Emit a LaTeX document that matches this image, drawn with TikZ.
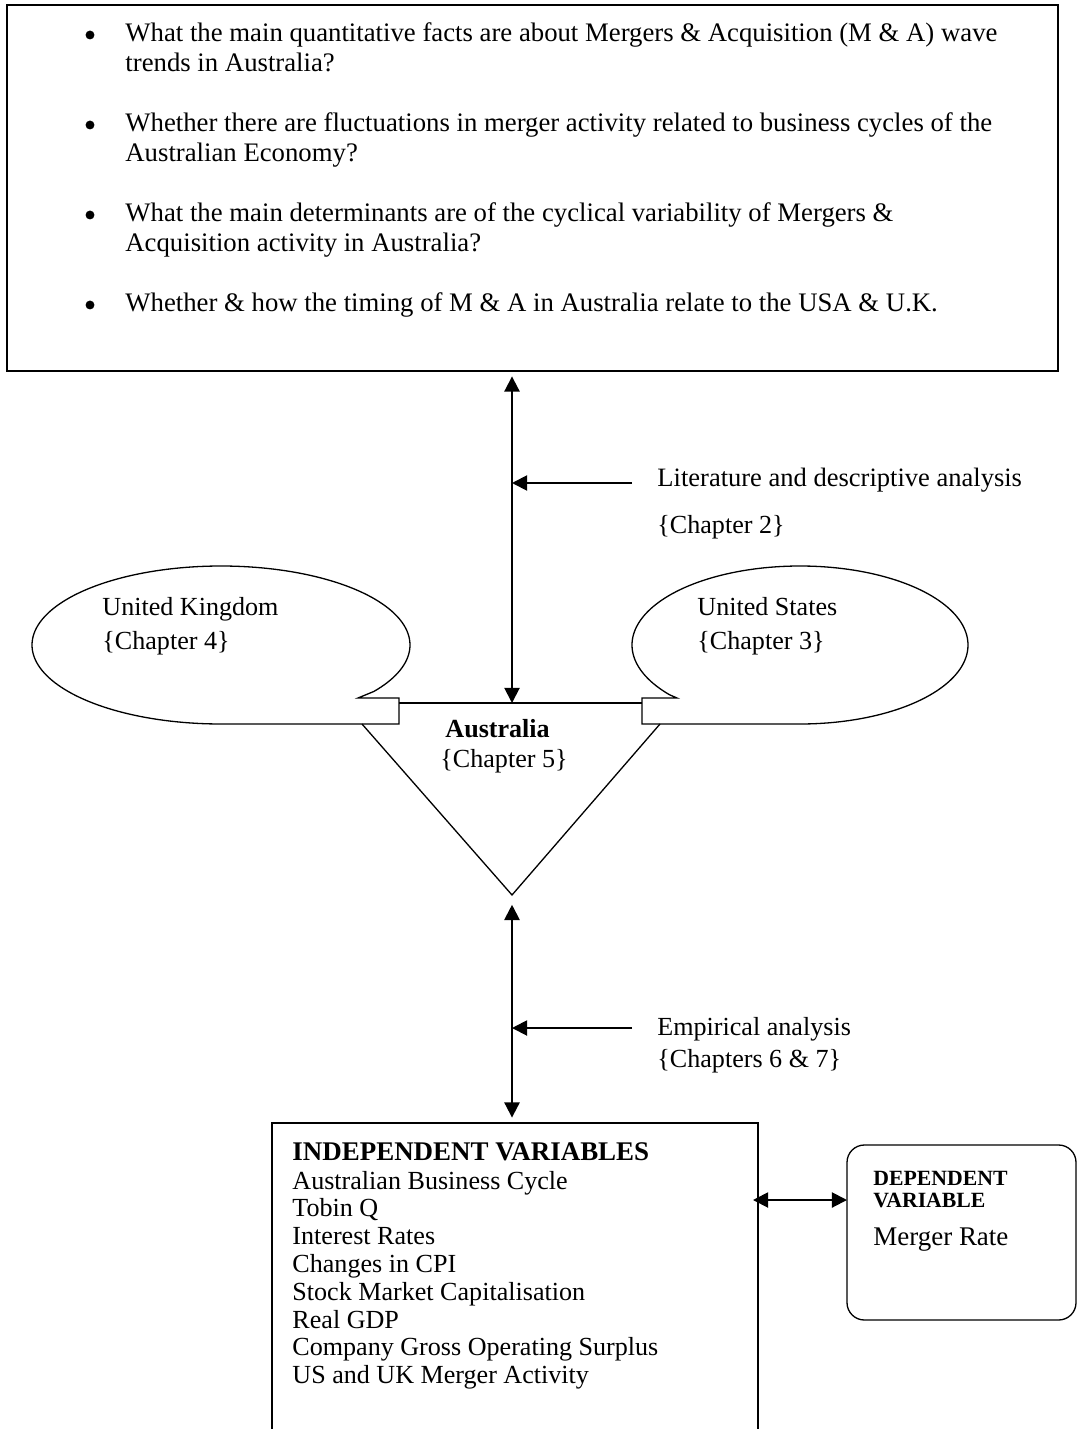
\documentclass[tikz,border=0pt]{standalone}
\usepackage{fontspec}
\setmainfont{Liberation Serif}
\usetikzlibrary{arrows.meta}
\begin{document}
\begin{tikzpicture}[x=0.46pt,y=-0.46pt,
  txt/.style={anchor=base west,inner sep=0pt,font=\fontsize{12}{14}\selectfont},
  toptxt/.style={anchor=base west,inner sep=0pt,font=\fontsize{12.3}{14}\selectfont},
  bul/.style={circle,fill=black,inner sep=0pt,minimum size=4.1pt},
  frame/.style={line width=0.9pt},
  outline/.style={line width=0.6pt},
  conn/.style={line width=0.9pt,-{Triangle[length=7pt,width=7pt]}},
  dconn/.style={line width=0.9pt,{Triangle[length=7pt,width=7pt]}-{Triangle[length=7pt,width=7pt]}}]
\useasboundingbox (0,0) rectangle (1079,1429);

% top box
\draw[frame] (7,5) rectangle (1058,371);
\node[bul] (b1) at (90,35) {};
\node[toptxt] (q1a) at (125,42) {What the main quantitative facts are about Mergers \& Acquisition (M \& A) wave};
\node[toptxt] (q1b) at (125,72) {trends in Australia?};
\node[bul] (b2) at (90,125) {};
\node[toptxt] (q2a) at (125,132) {Whether there are fluctuations in merger activity related to business cycles of the};
\node[toptxt] (q2b) at (125,162) {Australian Economy?};
\node[bul] (b3) at (90,215) {};
\node[toptxt] (q3a) at (125,222) {What the main determinants are of the cyclical variability of Mergers \&};
\node[toptxt] (q3b) at (125,252) {Acquisition activity in Australia?};
\node[bul] (b4) at (90,305) {};
\node[toptxt] (q4a) at (125,312) {Whether \& how the timing of M \& A in Australia relate to the USA \& U.K.};

% left callout ellipse (United Kingdom)
\draw[outline] plot[domain=90:396,samples=160] ({221+189*cos(\x)},{645+79*sin(\x)})
  -- (358,698) -- (399,698) -- (399,724) -- cycle;
% right callout ellipse (United States)
\draw[outline] plot[domain=90:-219,samples=160] ({800+168*cos(\x)},{645+79*sin(\x)})
  -- (677,698) -- (642,698) -- (642,724) -- cycle;
\node[txt] (uk1) at (102,615) {United Kingdom};
\node[txt] (uk2) at (102,649) {\{Chapter 4\}};
\node[txt] (us1) at (697,615) {United States};
\node[txt] (us2) at (697,649) {\{Chapter 3\}};

% triangle (Australia)
\draw[outline] (399,703) -- (642,703);
\draw[outline] (362,724) -- (512,895) -- (660,724);
\node[txt,font=\fontsize{12}{14}\selectfont\bfseries] (au1) at (445,737) {Australia};
\node[txt] (au2) at (440,767) {\{Chapter 5\}};

% coordinates for connectors
\coordinate (topbot) at (512,371);
\coordinate (austop) at (512,703);
\coordinate (litstart) at (632,483);
\coordinate (litend) at (512,483);
\coordinate (apex) at (512,895);
\coordinate (indtop) at (512,1123);
\coordinate (empstart) at (632,1028);
\coordinate (empend) at (512,1028);
\coordinate (indright) at (753,1200);
\coordinate (depleft) at (847,1200);

\draw[dconn,shorten <=2.5pt] (topbot) -- (austop);
\draw[conn] (litstart) -- (litend);
\node[txt,font=\fontsize{12.2}{14}\selectfont] (lit1) at (657,487) {Literature and descriptive analysis};
\node[txt] (lit2) at (657,533) {\{Chapter 2\}};

\draw[dconn,shorten <=4.5pt,shorten >=2.5pt] (apex) -- (indtop);
\draw[conn] (empstart) -- (empend);
\node[txt] (emp1) at (657,1035) {Empirical analysis};
\node[txt] (emp2) at (657,1067) {\{Chapters 6 \& 7\}};

% independent variables box
\draw[frame] (272,1432) -- (272,1123) -- (758,1123) -- (758,1432);
\node[txt,font=\fontsize{12.4}{14}\selectfont\bfseries] (ivh) at (292,1160) {INDEPENDENT VARIABLES};
\node[txt] (iv1) at (292,1189) {Australian Business Cycle};
\node[txt] (iv2) at (292,1216.8) {Tobin Q};
\node[txt] (iv3) at (292,1244.6) {Interest Rates};
\node[txt] (iv4) at (292,1272.4) {Changes in CPI};
\node[txt] (iv5) at (292,1300.2) {Stock Market Capitalisation};
\node[txt] (iv6) at (292,1328) {Real GDP};
\node[txt] (iv7) at (292,1355.8) {Company Gross Operating Surplus};
\node[txt] (iv8) at (292,1383.6) {US and UK Merger Activity};

% dependent variable box
\draw[outline,rounded corners=8pt] (847,1145) rectangle (1076,1320);
\node[txt,font=\fontsize{10}{12}\selectfont\bfseries] (dv1) at (873,1185) {DEPENDENT};
\node[txt,font=\fontsize{10}{12}\selectfont\bfseries] (dv2) at (873,1207) {VARIABLE};
\node[txt,font=\fontsize{12.4}{14}\selectfont] (dv3) at (873,1245) {Merger Rate};
\draw[dconn] (indright) -- (depleft);
\end{tikzpicture}
\end{document}
